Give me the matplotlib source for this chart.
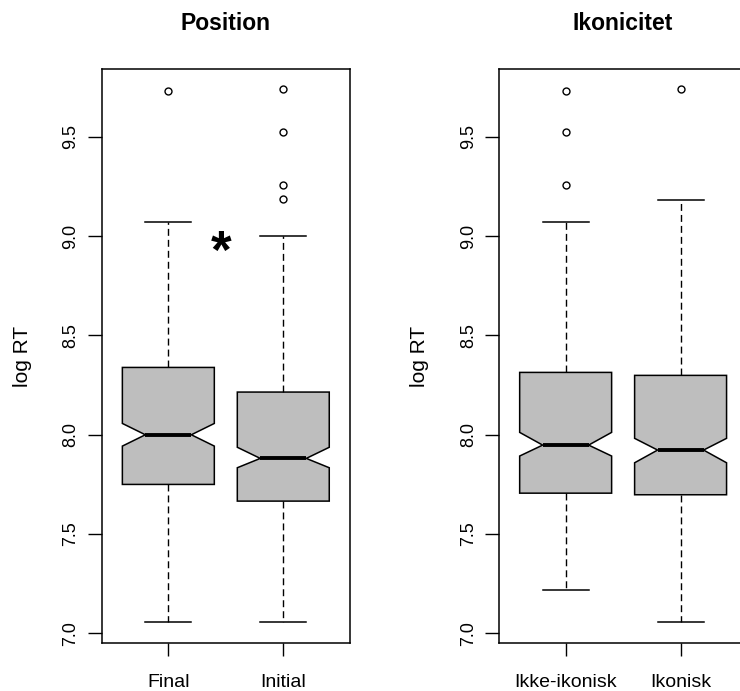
import matplotlib
matplotlib.use("Agg")
import matplotlib.pyplot as plt

plt.rcParams['font.family'] = ['Liberation Sans', 'DejaVu Sans']

# Five-number summaries, notch limits and outliers of log reaction times
position_labels = ["Final", "Initial"]
position_whislo = [7.058, 7.058]
position_q1 = [7.750, 7.666]
position_med = [8.000, 7.881]
position_q3 = [8.339, 8.215]
position_whishi = [9.072, 9.001]
position_cilo = [7.943, 7.834]
position_cihi = [8.057, 7.937]
position_fliers = [[9.731], [9.739, 9.524, 9.257, 9.185]]

icon_labels = ["Ikke-ikonisk", "Ikonisk"]
icon_whislo = [7.218, 7.058]
icon_q1 = [7.706, 7.698]
icon_med = [7.948, 7.923]
icon_q3 = [8.314, 8.299]
icon_whishi = [9.072, 9.182]
icon_cilo = [7.893, 7.859]
icon_cihi = [8.012, 7.982]
icon_fliers = [[9.731, 9.524, 9.257], [9.739]]

y_ticks = [7.0, 7.5, 8.0, 8.5, 9.0, 9.5]


def make_stats(labels, whislo, q1, med, q3, whishi, cilo, cihi, fliers):
    return [dict(label=labels[i], whislo=whislo[i], q1=q1[i], med=med[i],
                 q3=q3[i], whishi=whishi[i], cilo=cilo[i], cihi=cihi[i],
                 fliers=fliers[i]) for i in range(len(labels))]


def draw_panel(ax, stats, title):
    ax.bxp(stats, positions=[1, 2], widths=0.8, shownotches=True,
           patch_artist=True, manage_ticks=False,
           boxprops=dict(facecolor='#bebebe', edgecolor='black', linewidth=1.1),
           medianprops=dict(color='black', linewidth=2.8, solid_capstyle='butt'),
           whiskerprops=dict(color='black', linewidth=1.0, linestyle=(0, (5, 2.9))),
           capprops=dict(color='black', linewidth=1.1),
           flierprops=dict(marker='o', markerfacecolor='none',
                           markeredgecolor='black', markersize=5,
                           markeredgewidth=1.0, linestyle='none'))
    ax.set_xlim(0.42, 2.58)
    ax.set_ylim(6.95, 9.84)
    ax.set_xticks([1, 2], [s['label'] for s in stats], fontsize=14)
    ax.set_yticks(y_ticks, [f"{v:.1f}" for v in y_ticks], fontsize=13)
    ax.tick_params(axis='y', labelrotation=90, length=10, width=1.0, pad=6)
    ax.tick_params(axis='x', length=9, width=1.0, pad=13)
    for lab in ax.get_yticklabels():
        lab.set_verticalalignment('center')
    for sp in ax.spines.values():
        sp.set_linewidth(1.1)
    ax.set_title(title, fontweight='bold', fontsize=16.5, pad=28)
    ax.set_ylabel("log RT", fontsize=15)
    ax.yaxis.set_label_coords(-0.28, 0.5)


fig = plt.figure(figsize=(7.40, 6.91), dpi=100)

ax1 = fig.add_axes([0.1374, 0.069, 0.3355, 0.8307])
draw_panel(ax1, make_stats(position_labels, position_whislo, position_q1,
                           position_med, position_q3, position_whishi,
                           position_cilo, position_cihi, position_fliers),
           "Position")
ax1.text(1.46, 8.91, "*", fontsize=38, fontweight='bold',
         ha='center', va='center')

ax2 = fig.add_axes([0.6743, 0.069, 0.3355, 0.8307])
draw_panel(ax2, make_stats(icon_labels, icon_whislo, icon_q1, icon_med,
                           icon_q3, icon_whishi, icon_cilo, icon_cihi,
                           icon_fliers),
           "Ikonicitet")

fig.savefig("out.png", dpi=100)
